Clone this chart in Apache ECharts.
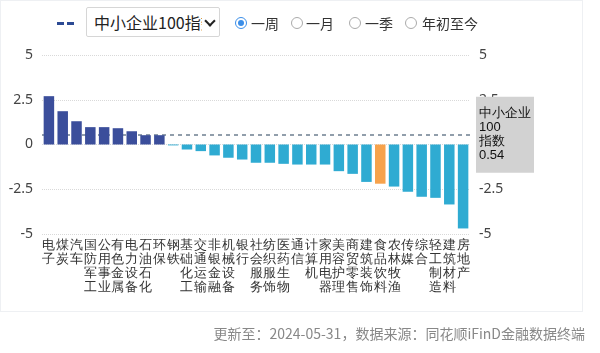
<!DOCTYPE html>
<html>
<head>
<meta charset="utf-8">
<script src="https://cdn.jsdelivr.net/npm/echarts@6/dist/echarts.min.js"></script>
<style>
    body { margin: 0; background: #fff; font-family: "Noto Sans CJK SC", sans-serif; }
    #wrap { position: relative; width: 600px; height: 353px; overflow: hidden; }
    #card { position: absolute; left: 0; top: 0; width: 583px; height: 312px; border: 1px solid #eef0f3; box-sizing: border-box; }
    #chart { position: absolute; left: 0; top: 0; width: 600px; height: 353px; }
    .legendDash { position: absolute; top: 22px; width: 7px; height: 3px; background: #2c4a94; }
    #sel { position: absolute; left: 86px; top: 7px; width: 134px; height: 30px; border: 1px solid #d6d6d6; border-radius: 2px; box-sizing: border-box; background: #fff; overflow: hidden; }
    #sel span { position: absolute; left: 7px; top: 4px; font-size: 16px; color: #222; white-space: nowrap; width: 108px; overflow: hidden; line-height: 20px; }
    #sel i { position: absolute; left: 119px; top: 9px; width: 6px; height: 6px; border-right: 2px solid #222; border-bottom: 2px solid #222; transform: rotate(45deg); }
    .radio { position: absolute; top: 17px; width: 12px; height: 12px; border: 1px solid #aaa; border-radius: 50%; box-sizing: border-box; background: #fff; }
    .radio.on { border-color: #3b8ee8; }
    .radio.on:after { content: ""; position: absolute; left: 2px; top: 2px; width: 6px; height: 6px; border-radius: 50%; background: #3b8ee8; }
    .rlab { position: absolute; top: 13px; font-size: 14px; color: #333; line-height: 20px; }
    #foot { position: absolute; right: 15px; top: 323px; font-size: 14px; color: #888; line-height: 20px; white-space: nowrap; }
</style>
</head>
<body>
<div id="wrap">
    <div id="card"></div>
    <div id="chart"></div>
    <div class="legendDash" style="left:57px"></div>
    <div class="legendDash" style="left:67px"></div>
    <div id="sel"><span>中小企业100指数</span><i></i></div>
    <div class="radio on" style="left:235px"></div><div class="rlab" style="left:251px">一周</div>
    <div class="radio" style="left:291px"></div><div class="rlab" style="left:306px">一月</div>
    <div class="radio" style="left:349px"></div><div class="rlab" style="left:365px">一季</div>
    <div class="radio" style="left:405px"></div><div class="rlab" style="left:422px">年初至今</div>
    <div id="foot">更新至：2024-05-31，数据来源：同花顺iFinD金融数据终端</div>
</div>
<script>
// 行业周涨跌幅(%)
var categories = ['电子','煤炭','汽车','国防军工','公用事业','有色金属','电力设备','石油石化','环保','钢铁',
    '基础化工','交通运输','非银金融','机械设备','银行','社会服务','纺织服饰','医药生物','通信','计算机',
    '家用电器','美容护理','商贸零售','建筑装饰','食品饮料','农林牧渔','传媒','综合','轻工制造','建筑材料','房地产'];
var weekChange = [2.70, 1.86, 1.30, 0.97, 0.97, 0.91, 0.74, 0.52, 0.52, -0.05,
    -0.28, -0.37, -0.61, -0.74, -0.84, -1.02, -1.02, -1.08, -1.12, -1.12,
    -1.12, -1.49, -1.64, -2.09, -2.19, -2.35, -2.64, -2.92, -2.98, -3.35, -4.69];
var indexName = '中小企业100指数';
var indexChange = 0.54;
var highlightCat = '食品饮料';
var yTicks = [-5, -2.5, 0, 2.5, 5];

var colorUp = '#3b4e9b', colorDown = '#2fabd2', colorHi = '#f7a24b';

var barData = weekChange.map(function (v, i) {
    var c = v >= 0 ? colorUp : colorDown;
    if (categories[i] == highlightCat) c = colorHi;
    return {value: v, itemStyle: {color: c}};
});

var axisY = function (pos) {
    return {
        type: 'value',
        position: pos,
        min: yTicks[0],
        max: yTicks[yTicks.length - 1],
        interval: 2.5,
        axisLine: {show: false},
        axisTick: {show: false},
        axisLabel: {color: '#444', fontSize: 14, margin: 9, fontFamily: 'Noto Sans'},
        splitLine: {show: pos == 'left', lineStyle: {color: '#d9d9d9', type: 'dotted'}}
    };
};

var option = {
    animation: false,
    grid: {left: 42, right: 130, top: 55, bottom: 119, containLabel: false},
    xAxis: {
        type: 'category',
        data: categories,
        axisLine: {show: false},
        axisTick: {show: false},
        axisLabel: {
            interval: 0,
            margin: 4,
            color: '#333',
            fontSize: 13,
            lineHeight: 14,
            verticalAlign: 'top',
            formatter: function (v) { return v.split('').join('\n'); }
        }
    },
    yAxis: [axisY('left'), axisY('right')],
    series: [{
        name: '行业涨跌幅',
        type: 'bar',
        z: 3,
        data: barData,
        barWidth: 10.5
    }, {
        // 指数参考线, 放在柱子后面
        name: indexName,
        type: 'line',
        z: 1,
        data: [],
        markLine: {
            z: 1,
            silent: true,
            symbol: 'none',
            lineStyle: {color: '#6e7f90', type: [4, 4], width: 1.5},
            label: {
                position: 'end',
                distance: 6,
                formatter: '中小企业\n100\n指数\n' + indexChange,
                backgroundColor: '#d2d2d2',
                color: '#111',
                fontSize: 13,
                lineHeight: 14,
                padding: [8, 3, 12, 3],
                align: 'left'
            },
            data: [{yAxis: indexChange}]
        }
    }]
};

var myChart = echarts.init(document.getElementById('chart'));
myChart.setOption(option);
</script>
</body>
</html>
